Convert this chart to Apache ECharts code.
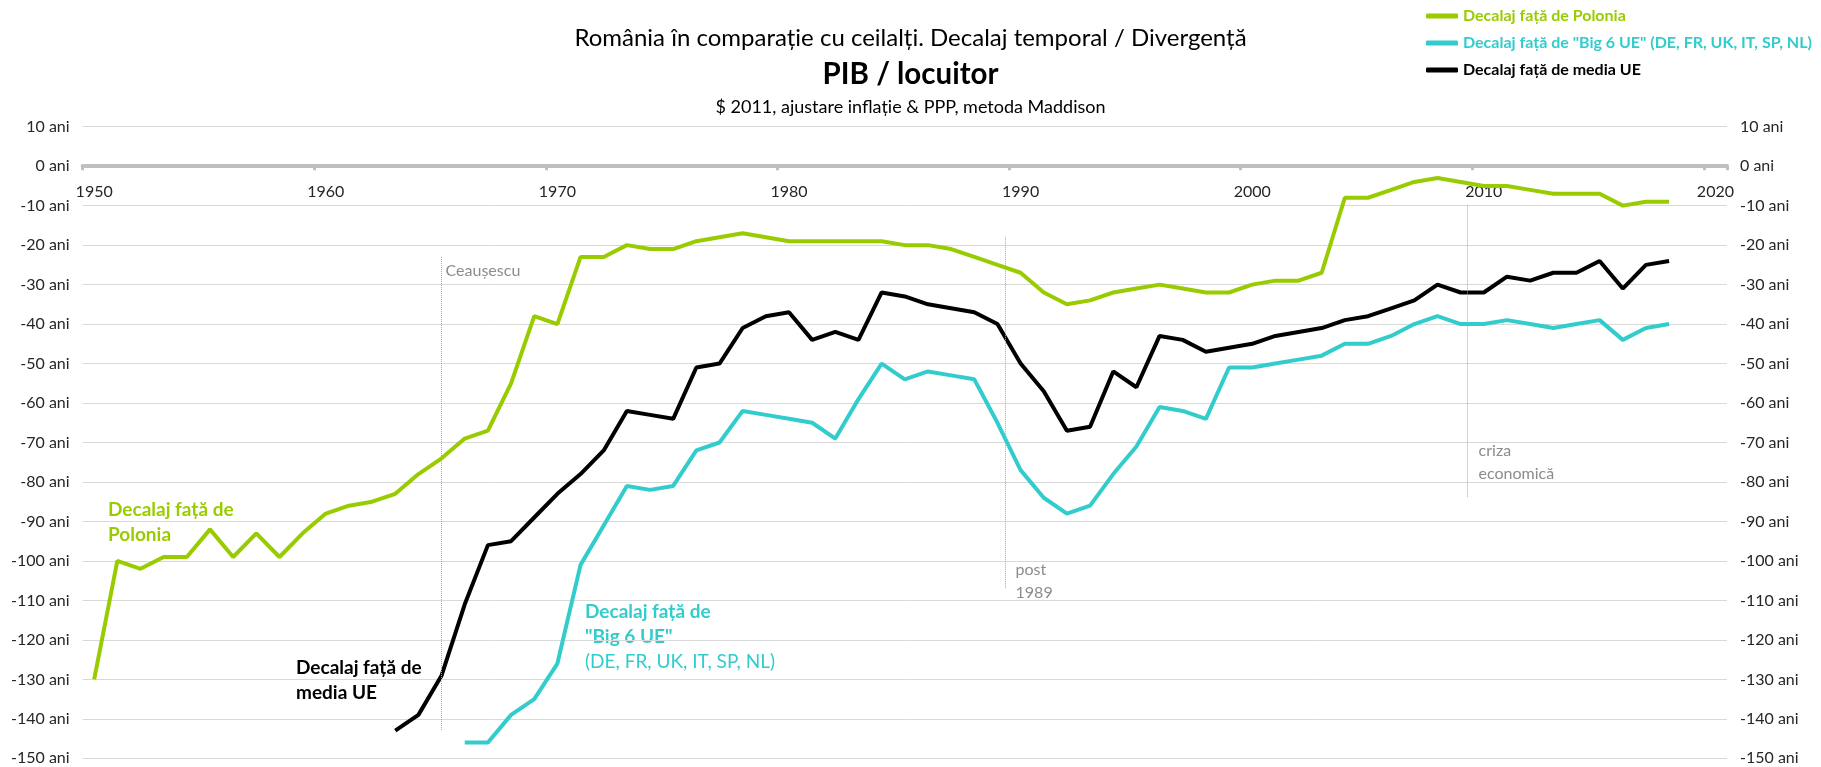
<!DOCTYPE html>
<html>
<head>
<meta charset="utf-8">
<script src="https://cdn.jsdelivr.net/npm/echarts@6/dist/echarts.min.js"></script>
<style>
  html, body { margin: 0; padding: 0; background: #fff; }
  #chart { width: 1821px; height: 767px; }
</style>
</head>
<body>
<div id="chart"></div>
<script>
const FONT = 'Lato, "Open Sans", sans-serif'

// categorii: anii 1950 - 2020
const years = []
for (let y = 1950; y <= 2020; y++) years.push(String(y))

// decalaj fata de Polonia, 1950 - 2018
const poloniaStart = 1950
const polonia = [-130, -100, -102, -99, -99, -92, -99, -93, -99, -93,
  -88, -86, -85, -83, -78, -74, -69, -67, -55, -38,
  -40, -23, -23, -20, -21, -21, -19, -18, -17, -18,
  -19, -19, -19, -19, -19, -20, -20, -21, -23, -25,
  -27, -32, -35, -34, -32, -31, -30, -31, -32, -32,
  -30, -29, -29, -27, -8, -8, -6, -4, -3, -4,
  -5, -5, -6, -7, -7, -7, -10, -9, -9]

// decalaj fata de "Big 6 UE", 1966 - 2018
const big6Start = 1966
const big6 = [-146, -146, -139, -135,
  -126, -101, -91, -81, -82, -81, -72, -70, -62, -63,
  -64, -65, -69, -59, -50, -54, -52, -53, -54, -65,
  -77, -84, -88, -86, -78, -71, -61, -62, -64, -51,
  -51, -50, -49, -48, -45, -45, -43, -40, -38, -40,
  -40, -39, -40, -41, -40, -39, -44, -41, -40]

// decalaj fata de media UE, 1963 - 2018
const mediaUEStart = 1963
const mediaUE = [-143, -139, -129, -111, -96, -95, -89,
  -83, -78, -72, -62, -63, -64, -51, -50, -41, -38,
  -37, -44, -42, -44, -32, -33, -35, -36, -37, -40,
  -50, -57, -67, -66, -52, -56, -43, -44, -47, -46,
  -45, -43, -42, -41, -39, -38, -36, -34, -30, -32,
  -32, -28, -29, -27, -27, -24, -31, -25, -24]

// adnotari verticale (an, capat sus, capat jos, text, nivelul textului)
const annotYears = [1965, 1989.35, 2009.3]
const annotTop = [-23, -18, -10]
const annotBottom = [-143, -107, -84]
const annotText = ['Ceaușescu', 'post\n1989', 'criza\neconomică']
const annotTextAt = [-26.5, -105.2, -75.1]
const annotTextDx = [1, 7, 8]

const Y_MIN = -150
const Y_MAX = 10
const GRID = { left: 82.6, right: 94, top: 126.7, bottom: 8.7 }
const GRID_H = 767 - GRID.top - GRID.bottom

const GREEN = '#99cc00'
const CYAN = '#33cccc'
const BLACK = '#000000'

function pad(start, arr) {
  const out = years.map(() => null)
  arr.forEach((v, i) => { out[start - 1950 + i] = v })
  return out
}

const markLines = annotYears.map((y, i) => [
  { coord: [y, annotTop[i]] },
  { coord: [y, annotBottom[i]] }
])
const markPoints = annotYears.map((y, i) => ({
  coord: [y, annotTextAt[i]],
  label: { formatter: annotText[i], offset: [annotTextDx[i], 0] }
}))

const chart = echarts.init(document.getElementById('chart'))

const option = {
  animation: false,
  textStyle: { fontFamily: FONT },
  title: [
    {
      text: 'România în comparație cu ceilalți. Decalaj temporal / Divergență',
      left: 'center', top: 21,
      textStyle: { fontFamily: FONT, fontSize: 24, fontWeight: 'normal', color: '#000' }
    },
    {
      text: 'PIB / locuitor',
      left: 'center', top: 54,
      textStyle: { fontFamily: FONT, fontSize: 29.5, fontWeight: 'bold', color: '#000' }
    },
    {
      text: '$ 2011, ajustare inflație & PPP, metoda Maddison',
      left: 'center', top: 93,
      textStyle: { fontFamily: FONT, fontSize: 18, fontWeight: 'normal', color: '#000' }
    }
  ],
  legend: {
    orient: 'vertical',
    left: 1421, top: 2,
    itemWidth: 32, itemHeight: 5, itemGap: 9,
    icon: 'roundRect',
    textStyle: { fontFamily: FONT, fontSize: 16, fontWeight: 'bold', lineHeight: 18 },
    data: [
      { name: 'Decalaj față de Polonia', textStyle: { color: GREEN } },
      { name: 'Decalaj față de "Big 6 UE" (DE, FR, UK, IT, SP, NL)', textStyle: { color: CYAN } },
      { name: 'Decalaj față de media UE', textStyle: { color: BLACK } }
    ]
  },
  grid: Object.assign({ containLabel: false, outerBoundsMode: 'none' }, GRID),
  xAxis: [
    {
      // axa anilor sta pe linia de 0 ani
      type: 'category',
      data: years,
      boundaryGap: true,
      position: 'top',
      offset: -GRID_H * Y_MAX / (Y_MAX - Y_MIN),
      axisLine: { onZero: false, lineStyle: { color: '#bfbfbf', width: 4 } },
      axisTick: { show: true, inside: true, interval: 9, length: 4, lineStyle: { color: '#bfbfbf', width: 3 } },
      axisLabel: { inside: true, interval: 9, margin: 18, fontFamily: FONT, fontSize: 16, color: '#262626' },
      splitLine: { show: false }
    },
    {
      type: 'value',
      position: 'bottom',
      min: 1949.5, max: 2020.5,
      show: false
    }
  ],
  yAxis: [
    {
      type: 'value',
      min: Y_MIN, max: Y_MAX, interval: 10,
      axisLine: { show: false, onZero: false },
      axisTick: { show: false },
      axisLabel: { formatter: '{value} ani', margin: 13, fontFamily: FONT, fontSize: 16, color: '#262626' },
      splitLine: { show: true, lineStyle: { color: '#d9d9d9', width: 1 } }
    },
    {
      type: 'value',
      position: 'right',
      min: Y_MIN, max: Y_MAX, interval: 10,
      axisLine: { show: false, onZero: false },
      axisTick: { show: false },
      axisLabel: { formatter: '{value} ani', margin: 13, fontFamily: FONT, fontSize: 16, color: '#262626' },
      splitLine: { show: false }
    }
  ],
  graphic: [
    {
      type: 'text', left: 108, top: 497,
      style: {
        text: 'Decalaj față de\nPolonia', fill: GREEN,
        font: 'bold 19px ' + FONT, lineHeight: 25
      }
    },
    {
      type: 'text', left: 296, top: 655,
      style: {
        text: 'Decalaj față de\nmedia UE', fill: BLACK,
        font: 'bold 19px ' + FONT, lineHeight: 25
      }
    },
    {
      type: 'text', left: 585, top: 599,
      style: {
        text: 'Decalaj față de\n"Big 6 UE"\n{n|(DE, FR, UK, IT, SP, NL)}', fill: CYAN,
        font: 'bold 19px ' + FONT, lineHeight: 25,
        rich: { n: { fontWeight: 'normal', fontSize: 19, fontFamily: FONT, fill: CYAN, lineHeight: 25 } }
      }
    }
  ],
  series: [
    {
      name: 'Decalaj față de Polonia',
      type: 'line',
      data: pad(poloniaStart, polonia),
      showSymbol: false,
      lineStyle: { color: GREEN, width: 4 },
      itemStyle: { color: GREEN }
    },
    {
      name: 'Decalaj față de "Big 6 UE" (DE, FR, UK, IT, SP, NL)',
      type: 'line',
      data: pad(big6Start, big6),
      showSymbol: false,
      lineStyle: { color: CYAN, width: 4 },
      itemStyle: { color: CYAN }
    },
    {
      name: 'Decalaj față de media UE',
      type: 'line',
      data: pad(mediaUEStart, mediaUE),
      showSymbol: false,
      lineStyle: { color: BLACK, width: 4 },
      itemStyle: { color: BLACK }
    },
    {
      name: 'adnotari',
      type: 'line',
      xAxisIndex: 1,
      yAxisIndex: 0,
      data: [],
      silent: true,
      markLine: {
        silent: true,
        symbol: 'none',
        label: { show: false },
        lineStyle: { type: 'dotted', color: '#a6a6a6', width: 1 },
        data: markLines
      },
      markPoint: {
        silent: true,
        symbol: 'circle',
        symbolSize: 0,
        itemStyle: { color: 'transparent' },
        label: {
          show: true, position: 'right', distance: 3,
          fontFamily: FONT, fontSize: 16, color: '#8c8c8c', lineHeight: 23
        },
        data: markPoints
      }
    }
  ]
}

chart.setOption(option)
</script>
</body>
</html>
